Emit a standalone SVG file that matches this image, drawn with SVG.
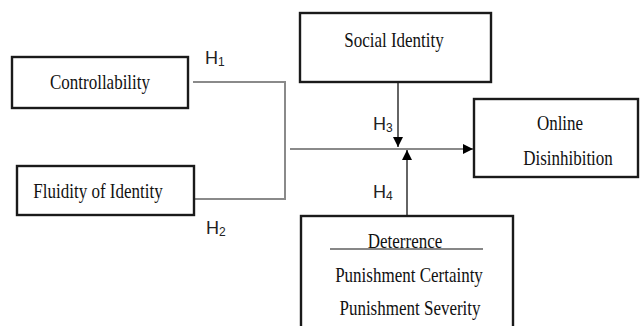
<svg xmlns="http://www.w3.org/2000/svg" width="641" height="326" viewBox="0 0 641 326">
<style>
.box{fill:#fff;stroke:#1a1a1a;stroke-width:2.4}
.t{font-family:"Liberation Serif","Times New Roman",serif;font-size:17px;fill:#111;text-anchor:middle}
.h{font-family:"Liberation Sans",Arial,sans-serif;font-size:18px;fill:#222}
.s{font-size:12px}
.g{fill:none;stroke:#8a8a8a;stroke-width:2}
.k{fill:none;stroke:#111;stroke-width:1.3}
</style>
<defs>
<marker id="ah" viewBox="0 0 10 10" refX="10" refY="5" markerWidth="10" markerHeight="10" markerUnits="userSpaceOnUse" orient="auto">
<path d="M0,0 L10,5 L0,10 Z" fill="#000"/>
</marker>
</defs>
<rect width="641" height="326" fill="#fff"/>
<g id="connectors">
<polyline class="g" points="193,82 285,82 285,199 194,199"/>
<line class="g" x1="290" y1="149" x2="473" y2="149" marker-end="url(#ah)"/>
<line class="k" x1="398" y1="82" x2="398" y2="147" marker-end="url(#ah)"/>
<line class="k" x1="407" y1="216" x2="407" y2="150" marker-end="url(#ah)"/>
<text class="h" x="205" y="64">H<tspan class="s" dy="2">1</tspan></text>
<text class="h" x="206" y="234">H<tspan class="s" dy="2">2</tspan></text>
<text class="h" x="373" y="130">H<tspan class="s" dy="2">3</tspan></text>
<text class="h" x="373" y="198">H<tspan class="s" dy="2">4</tspan></text>
</g>
<g id="controllability">
<rect class="box" x="12" y="57" width="176" height="51"/>
<text class="t" transform="translate(100,89) scale(1,1.18)">Controllability</text>
</g>
<g id="fluidity">
<rect class="box" x="17" y="166" width="177" height="49"/>
<text class="t" transform="translate(98,198) scale(1,1.18)">Fluidity of Identity</text>
</g>
<g id="social">
<rect class="box" x="300" y="13" width="191" height="69"/>
<text class="t" transform="translate(394,47) scale(1,1.18)">Social Identity</text>
</g>
<g id="online">
<rect class="box" x="474" y="99" width="164" height="78"/>
<text class="t" transform="translate(560,130) scale(1,1.18)">Online</text>
<text class="t" transform="translate(568,165) scale(1,1.18)">Disinhibition</text>
</g>
<g id="deterrence">
<rect class="box" x="301" y="216" width="212" height="120"/>
<text class="t" transform="translate(405,248) scale(1,1.18)">Deterrence</text>
<line x1="330" y1="249" x2="483" y2="249" stroke="#111" stroke-width="1.2"/>
<text class="t" transform="translate(409,282) scale(1,1.18)">Punishment Certainty</text>
<text class="t" transform="translate(410,315) scale(1,1.18)">Punishment Severity</text>
</g>
</svg>
